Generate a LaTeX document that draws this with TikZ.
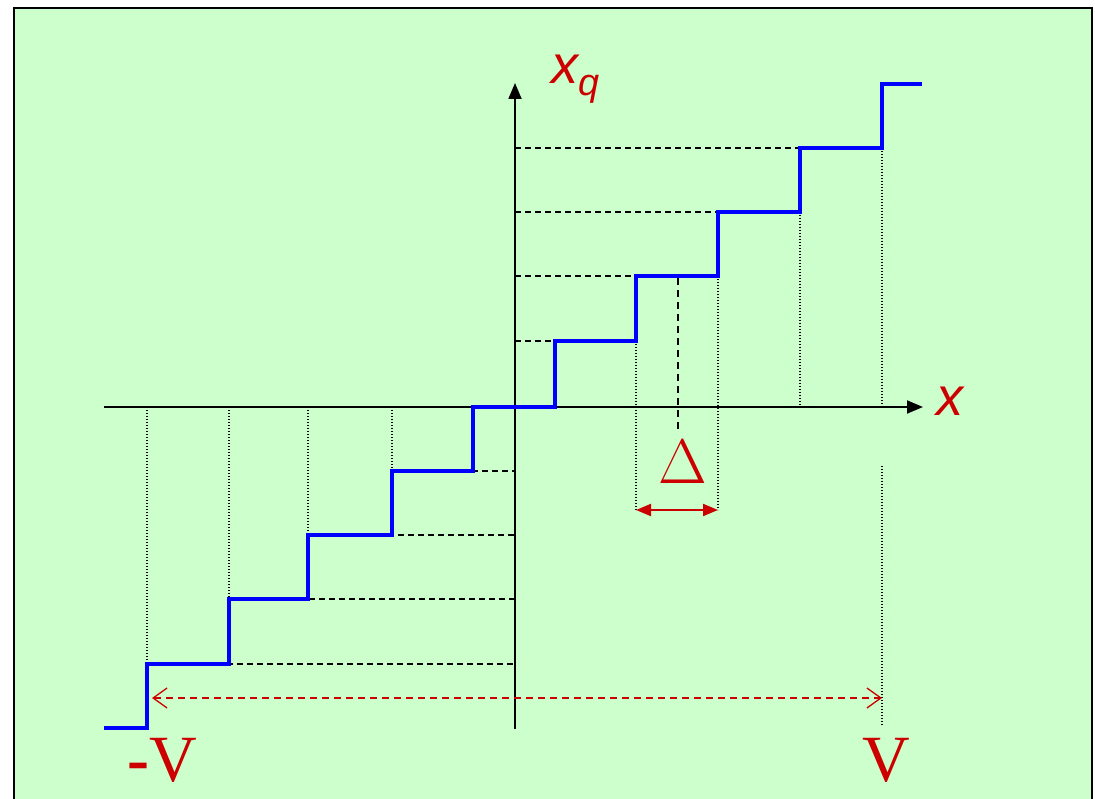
\documentclass[tikz,border=0pt]{standalone}
\usepackage{fontspec}
\setmainfont{Liberation Serif}
\newfontfamily\sansfam{Liberation Sans}
\newfontfamily\lmfam{Latin Modern Roman}
\usetikzlibrary{arrows.meta}
\definecolor{bg}{HTML}{CCFFCC}
\definecolor{lred}{HTML}{CC0000}
\definecolor{lblue}{HTML}{0000FF}
\tikzset{
  axis/.style={line width=1.8pt, -{Triangle[length=16pt,width=13pt]}},
  stair/.style={draw=lblue, line width=3.6pt, line join=miter},
  hdash/.style={black, line width=1.5pt, dash pattern=on 6pt off 4pt},
  vdash/.style={black, line width=2pt, dash pattern=on 7pt off 5pt},
  vdot/.style={black, line width=1.3pt, dash pattern=on 1.3pt off 1.7pt},
  rdash/.style={lred, line width=1.3pt, dash pattern=on 7pt off 5pt, {Straight Barb[length=14pt,width=20pt,line width=1.3pt]}-{Straight Barb[length=14pt,width=20pt,line width=1.3pt]}},
  darrow/.style={lred, line width=2pt, {Triangle[length=15pt,width=12pt]}-{Triangle[length=15pt,width=12pt]}},
  sertxt/.style={text=lred, inner sep=0pt, anchor=base, font=\fontsize{66}{66}\selectfont},
  sanstxt/.style={text=lred, inner sep=0pt, anchor=base, font=\sansfam\itshape\fontsize{54}{54}\selectfont}
}
\begin{document}
\begin{tikzpicture}[x=1pt,y=-1pt]
\useasboundingbox (0,0) rectangle (1095,799);
\fill[bg] (14,8) rectangle (1092,810);
\draw[line width=2.2pt] (14,812) -- (14,8) -- (1092,8) -- (1092,812);
% step coordinates
\coordinate (s0) at (104,728);
\coordinate (a1) at (147,728); \coordinate (b1) at (147,664);
\coordinate (a2) at (229,664); \coordinate (b2) at (229,599);
\coordinate (a3) at (308,599); \coordinate (b3) at (308,535);
\coordinate (a4) at (392,535); \coordinate (b4) at (392,471);
\coordinate (a5) at (473,471); \coordinate (b5) at (473,407);
\coordinate (a6) at (555,407); \coordinate (b6) at (555,341);
\coordinate (a7) at (636,341); \coordinate (b7) at (636,276);
\coordinate (a8) at (718,276); \coordinate (b8) at (718,212);
\coordinate (a9) at (800,212); \coordinate (b9) at (800,148);
\coordinate (a10) at (882,148); \coordinate (b10) at (882,84);
\coordinate (s11) at (922,84);
% axis feet on y axis
\coordinate (y1) at (515,664); \coordinate (y2) at (515,599);
\coordinate (y3) at (515,535); \coordinate (y4) at (515,471);
\coordinate (y6) at (515,341); \coordinate (y7) at (515,276);
\coordinate (y8) at (515,212); \coordinate (y9) at (515,148);
% feet on x axis
\coordinate (x1) at (147,407); \coordinate (x2) at (229,407);
\coordinate (x3) at (308,407); \coordinate (x4) at (392,407);
\coordinate (x9) at (800,407); \coordinate (x10) at (882,407);
\coordinate (d7) at (636,510); \coordinate (d8) at (718,510);
% dashed horizontals
\draw[hdash] (b1) -- (y1); \draw[hdash] (b2) -- (y2);
\draw[hdash] (b3) -- (y3); \draw[hdash] (b4) -- (y4);
\draw[hdash] (y6) -- (b6); \draw[hdash] (y7) -- (b7);
\draw[hdash] (y8) -- (b8); \draw[hdash] (y9) -- (b9);
% dotted verticals
\draw[vdot] (x1) -- (b1); \draw[vdot] (x2) -- (b2);
\draw[vdot] (x3) -- (b3); \draw[vdot] (x4) -- (b4);
\draw[vdot] (a7) -- (d7); \draw[vdot] (a8) -- (d8);
\draw[vdot] (a9) -- (x9); \draw[vdot] (a10) -- (x10);
\coordinate (v1) at (882,466); \coordinate (v2) at (882,725);
\draw[vdot] (v1) -- (v2);
% dashed vertical mid
\coordinate (m1) at (678,278); \coordinate (m2) at (678,430);
\draw[vdash] (m1) -- (m2);
% axes
\coordinate (xa0) at (104,407); \coordinate (xa1) at (923,407);
\coordinate (ya0) at (515,729); \coordinate (ya1) at (515,83);
\draw[axis] (xa0) -- (xa1);
\draw[axis] (ya0) -- (ya1);
% staircase
\draw[stair] (s0) -- (a1) -- (b1) -- (a2) -- (b2) -- (a3) -- (b3) -- (a4) -- (b4) -- (a5) -- (b5) -- (a6) -- (b6) -- (a7) -- (b7) -- (a8) -- (b8) -- (a9) -- (b9) -- (a10) -- (b10) -- (s11);
% arrows
\draw[darrow] (d7) -- (d8);
\coordinate (r1) at (152,698); \coordinate (r2) at (882,698);
\draw[rdash] (r1) -- (r2);
% labels
\node[sertxt, font=\lmfam\fontsize{63}{63}\selectfont] (delta) at (683,483) {Δ};
\node[sertxt] (mv) at (162,781) {\textbf{-}V};
\node[sertxt] (pv) at (886,781) {V};
\node[sanstxt, anchor=base west] (xq) at (551,84) {x\textsubscript{q}};
\node[sanstxt] (xl) at (950,416) {x};
\end{tikzpicture}
\end{document}
